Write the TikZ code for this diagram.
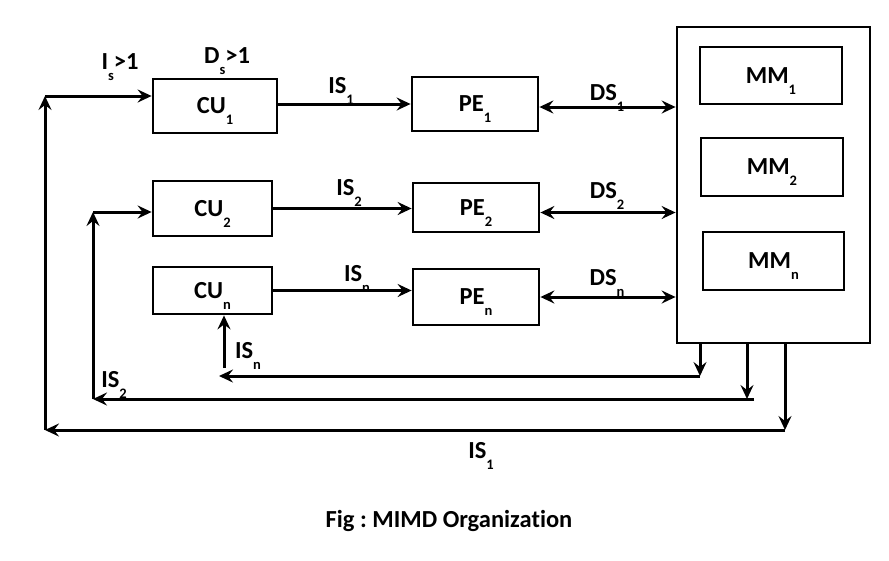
\documentclass[tikz,border=0pt]{standalone}
\usepackage{fontspec}
\setmainfont{Carlito}[Ligatures=NoCommon]
\usetikzlibrary{arrows.meta}
\newcommand{\lo}[1]{\raisebox{-11pt}[0pt][0pt]{\fontsize{14.5}{14.5}\selectfont #1}}
\frenchspacing
\begin{document}
\begin{tikzpicture}[x=1pt,y=-1pt,
  font=\fontsize{24.5}{24.5}\selectfont\bfseries,
  line width=3pt,
  >={Stealth[length=14pt,width=13pt,inset=5pt]},
  box/.style={draw, line width=2.8pt, inner sep=0pt},
  lbl/.style={anchor=base, inner sep=0pt}]
\useasboundingbox (0,0) rectangle (889,560);

% control units
\node[box, minimum width=124pt, minimum height=54pt] (CU1) at (215,106) {CU\lo{1}};
\node[box, minimum width=119pt, minimum height=55pt] (CU2) at (212.5,208.5) {CU\lo{2}};
\node[box, minimum width=119pt, minimum height=47pt] (CUn) at (212.5,290.5) {CU\lo{n}};
% processing elements
\node[box, minimum width=126pt, minimum height=54pt] (PE1) at (475,104) {PE\lo{1}};
\node[box, minimum width=126pt, minimum height=49pt] (PE2) at (476,207.5) {PE\lo{2}};
\node[box, minimum width=126pt, minimum height=56pt] (PEn) at (476,297) {PE\lo{n}};
% memory
\node[box, minimum width=193pt, minimum height=316pt] (MEM) at (773.5,185) {};
\node[box, minimum width=142pt, minimum height=57pt] (MM1) at (771,75.5) {MM\lo{1}};
\node[box, minimum width=142pt, minimum height=58pt] (MM2) at (772,167) {MM\lo{2}};
\node[box, minimum width=141pt, minimum height=58pt] (MMn) at (773.5,261) {MM\lo{n}};

% instruction streams CU -> PE
\draw[->] (CU1.east |- PE1.west) -- (PE1.west);
\draw[->] (CU2.east) -- (CU2.east -| PE2.west);
\draw[->] (CUn.east) -- (CUn.east -| PEn.west);
% data streams
\coordinate (d1) at ([yshift=-3pt]PE1.east);
\coordinate (d2) at ([yshift=-5pt]PE2.east);
\draw[<->] (d1) -- (d1 -| MEM.west);
\draw[<->] (d2) -- (d2 -| MEM.west);
\draw[<->] (PEn.east) -- (PEn.east -| MEM.west);

% feedback IS_n
\coordinate (cn) at (700,376);
\coordinate (en) at (219,376);
\coordinate (sn) at (224,368);
\draw[->] (MEM.south -| cn) -- (cn);
\draw[->] (cn) -- (en);
\draw[->] (sn) -- (sn |- CUn.south);
% feedback IS_2
\coordinate (c2) at (747,399);
\coordinate (c2r) at (754,399);
\coordinate (e2) at (93,399);
\coordinate (k2) at (93,212);
\draw[->] (MEM.south -| c2) -- (c2);
\draw[->] (c2r) -- (e2);
\draw[->] (e2) -- (k2);
\draw[->] (k2) -- (k2 -| CU2.west);
% feedback IS_1
\coordinate (c1) at (785,430);
\coordinate (e1) at (45,430);
\coordinate (k1) at (45,96);
\draw[->] (MEM.south -| c1) -- (c1);
\draw[->] (c1) -- (e1);
\draw[->] (e1) -- (k1);
\draw[->] (k1) -- (k1 -| CU1.west);

% labels
\node[lbl] (lIs) at (120,69) {I\lo{s}>1};
\node[lbl] (lDs) at (227,63) {D\lo{s}>1};
\node[lbl] (lIS1) at (341,93) {IS\lo{1}};
\node[lbl] (lIS2) at (349,195) {IS\lo{2}};
\node[lbl] (lISn) at (357,281) {IS\lo{n}};
\node[lbl] (lDS1) at (607,100) {DS\lo{1}};
\node[lbl] (lDS2) at (607,198) {DS\lo{2}};
\node[lbl] (lDSn) at (607,285) {DS\lo{n}};
\node[lbl] (bISn) at (248,358) {IS\lo{n}};
\node[lbl] (bIS2) at (114,387) {IS\lo{2}};
\node[lbl] (bIS1) at (481,458) {IS\lo{1}};
\node[lbl] (cap) at (449,527) {Fig : MIMD Organization};
\end{tikzpicture}
\end{document}
